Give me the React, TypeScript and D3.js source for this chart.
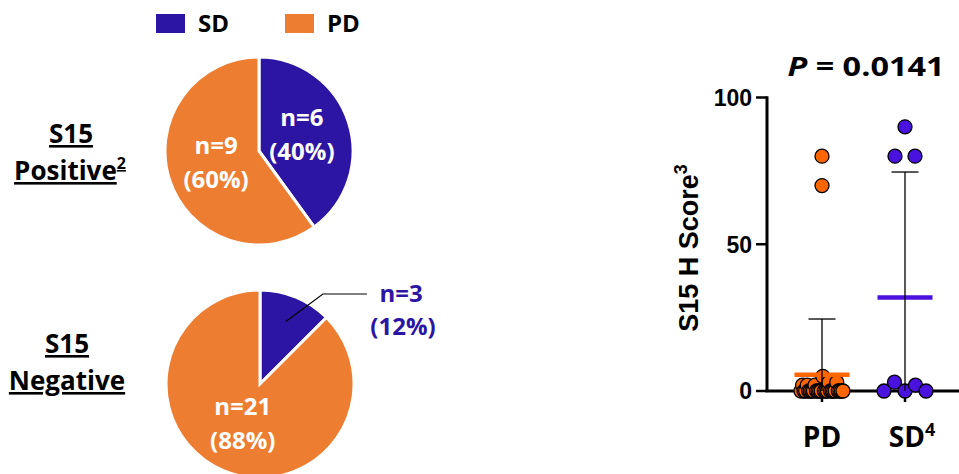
import React from "react";
import * as d3 from "d3";

// Response groups shown in the legend and pies
const responseLabels = ["SD", "PD"];
const pieColors = ["#2C15A3", "#ED7D31"];

// Patient counts per S15 status, ordered [SD, PD]
const positiveCounts = [6, 9];
const negativeCounts = [3, 21];

// H score per patient
const scoreCategories = ["PD", "SD"];
const pdScores = [80, 70, 0, 2, 0, 0, 2, 0, 0, 0, 0, 2, 0, 0, 0, 0, 5, 0, 0, 0, 3, 0, 0, 0, 0, 3, 0, 0, 0, 0];
const sdScores = [90, 80, 80, 0, 3, 0, 2, 0];
const dotColors = ["#FF6600", "#4A12DE"];
const yTicks = [0, 50, 100];
const pValueText = "0.0141";

const W = 959;
const H = 474;
const CAL = "'Open Sans', Lato, sans-serif";
const ARI = "'Liberation Sans', Arial, sans-serif";

// Percentages rounded half-to-even (12.5 -> 12, 87.5 -> 88)
function roundHalfEven(v: number) {
  const f = Math.floor(v);
  const diff = v - f;
  if (Math.abs(diff - 0.5) < 1e-9) return f % 2 === 0 ? f : f + 1;
  return Math.round(v);
}

type PieProps = { cx: number; cy: number; counts: number[]; outside?: boolean };

function Pie({ cx, cy, counts, outside }: PieProps) {
  const r = 94;
  const total = d3.sum(counts);
  const arcs = d3.pie<number>().sort(null).value((d) => d)(counts);
  const arc = d3.arc<d3.PieArcDatum<number>>().innerRadius(0).outerRadius(r);
  const labelArc = d3.arc<d3.PieArcDatum<number>>().innerRadius(r * 0.48).outerRadius(r * 0.48);
  const leaderArc = d3.arc<d3.PieArcDatum<number>>().innerRadius(r * 0.72).outerRadius(r * 0.72);
  const fmt = (v: number) => `(${roundHalfEven((v / total) * 100)}%)`;
  const fs = 24;
  return (
    <g transform={`translate(${cx},${cy})`}>
      {arcs.map((a, i) => (
        <path key={i} d={arc(a) || ""} fill={pieColors[i]} stroke="#fff" strokeWidth={3} strokeLinejoin="miter" />
      ))}
      {arcs.map((a, i) => {
        if (outside && i === 0) {
          const [lx, ly] = leaderArc.centroid(a);
          const ex = lx + 37;
          const ey = -90;
          const tx = 141;
          return (
            <g key={`l${i}`}>
              <polyline points={`${lx},${ly} ${ex},${ey} ${ex + 44},${ey}`} fill="none" stroke="#000" strokeWidth={1.2} />
              <text x={tx} y={-82} textAnchor="middle" fontFamily={CAL} fontWeight={700} fontSize={fs} fill={pieColors[0]}>
                {`n=${a.value}`}
              </text>
              <text x={tx + 2} y={-49} textAnchor="middle" fontFamily={CAL} fontWeight={700} fontSize={fs} fill={pieColors[0]}>
                {fmt(a.value)}
              </text>
            </g>
          );
        }
        const [x, y] = labelArc.centroid(a);
        return (
          <g key={`l${i}`}>
            <text x={x} y={y - 11} textAnchor="middle" fontFamily={CAL} fontWeight={700} fontSize={fs} fill="#fff">
              {`n=${a.value}`}
            </text>
            <text x={x} y={y + 23} textAnchor="middle" fontFamily={CAL} fontWeight={700} fontSize={fs} fill="#fff">
              {fmt(a.value)}
            </text>
          </g>
        );
      })}
    </g>
  );
}

// Spread points that share a value band horizontally around the category centre
function spread(values: number[], y: (v: number) => number) {
  const bins = d3.group(values.map((v, i) => ({ v, i })), (d) => Math.floor(d.v / 8));
  const offsets = new Array(values.length).fill(0);
  for (const items of bins.values()) {
    const n = items.length;
    const step = n > 1 ? Math.min(20, 42 / (n - 1)) : 0;
    items.forEach((d, k) => {
      offsets[d.i] = (k - (n - 1) / 2) * step;
    });
  }
  return values.map((v, i) => ({ v, dx: offsets[i], y: y(v) }));
}

const underline: React.CSSProperties = { textDecoration: "underline", textDecorationSkipInk: "none" } as React.CSSProperties;

export default function App() {
  const y = d3.scaleLinear().domain([0, 100]).range([391, 97.5]);
  const x = d3.scalePoint<string>().domain(scoreCategories).range([822, 905]);
  const axisX = 767;
  const groups = [pdScores, sdScores];

  return (
    <svg width={W} height={H} style={{ display: "block", position: "absolute", left: 0, top: 0 }}>
      <rect width={W} height={H} fill="#fff" />

      {/* legend */}
      {responseLabels.map((lab, i) => (
        <g key={lab} transform={`translate(${156 + i * 129},14)`}>
          <rect width={29} height={19} fill={pieColors[i]} />
          <text x={42} y={18} fontFamily={CAL} fontWeight={700} fontSize={24} fill="#000">
            {lab}
          </text>
        </g>
      ))}

      {/* row labels */}
      <text x={71} y={143} textAnchor="middle" fontFamily={CAL} fontWeight={700} fontSize={26} style={underline}>
        S15
      </text>
      <text x={70} y={180} textAnchor="middle" fontFamily={CAL} fontWeight={700} fontSize={26} style={underline}>
        Positive<tspan dy={-11} fontSize={16}>2</tspan>
      </text>
      <text x={67} y={353} textAnchor="middle" fontFamily={CAL} fontWeight={700} fontSize={26} style={underline}>
        S15
      </text>
      <text x={67} y={390} textAnchor="middle" fontFamily={CAL} fontWeight={700} fontSize={26} style={underline}>
        Negative
      </text>

      <Pie cx={259} cy={151} counts={positiveCounts} />
      <Pie cx={260} cy={384} counts={negativeCounts} outside />

      {/* dot plot */}
      <text
        x={866}
        y={76}
        textAnchor="middle"
        fontFamily={CAL}
        fontWeight={700}
        fontSize={27}
        textLength={157}
        lengthAdjust="spacingAndGlyphs"
      >
        <tspan fontStyle="italic">P</tspan> = {pValueText}
      </text>

      <text
        transform={`translate(698,248) rotate(-90)`}
        textAnchor="middle"
        fontFamily={ARI}
        fontWeight={700}
        fontSize={27}
      >
        S15 H Score<tspan dy={-11} fontSize={18}>3</tspan>
      </text>

      {yTicks.map((t) => (
        <g key={t}>
          <line x1={756} x2={axisX} y1={y(t)} y2={y(t)} stroke="#000" strokeWidth={2.5} />
          <text x={752} y={y(t)} dy="0.36em" textAnchor="end" fontFamily={ARI} fontWeight={700} fontSize={23}>
            {t}
          </text>
        </g>
      ))}
      <line x1={axisX} x2={axisX} y1={y(100) - 1.2} y2={y(0)} stroke="#000" strokeWidth={3} />
      <line x1={axisX - 1.5} x2={W} y1={y(0)} y2={y(0)} stroke="#000" strokeWidth={3} />
      {scoreCategories.map((c) => (
        <line key={c} x1={x(c)} x2={x(c)} y1={y(0)} y2={y(0) + 11} stroke="#000" strokeWidth={2.5} />
      ))}

      {groups.map((vals, gi) => {
        const cx = x(scoreCategories[gi]) as number;
        const pts = spread(vals, y);
        const mean = d3.mean(vals) as number;
        const sd = d3.deviation(vals) as number;
        return (
          <g key={gi}>
            {pts.map((p, k) => (
              <circle key={k} cx={cx + p.dx} cy={p.y} r={7} fill={dotColors[gi]} stroke="#000" strokeWidth={1.3} />
            ))}
            <line x1={cx - 27.5} x2={cx + 27.5} y1={y(mean)} y2={y(mean)} stroke={dotColors[gi]} strokeWidth={4.5} />
            <line x1={cx} x2={cx} y1={y(Math.max(0, mean - sd))} y2={y(mean + sd)} stroke="#000" strokeWidth={1.3} />
            <line x1={cx - 13.5} x2={cx + 13.5} y1={y(mean + sd)} y2={y(mean + sd)} stroke="#000" strokeWidth={1.3} />
          </g>
        );
      })}

      <text x={822} y={447} textAnchor="middle" fontFamily={CAL} fontWeight={700} fontSize={28}>
        PD
      </text>
      <text x={912} y={447} textAnchor="middle" fontFamily={CAL} fontWeight={700} fontSize={28}>
        SD<tspan dy={-11} fontSize={18}>4</tspan>
      </text>
    </svg>
  );
}
